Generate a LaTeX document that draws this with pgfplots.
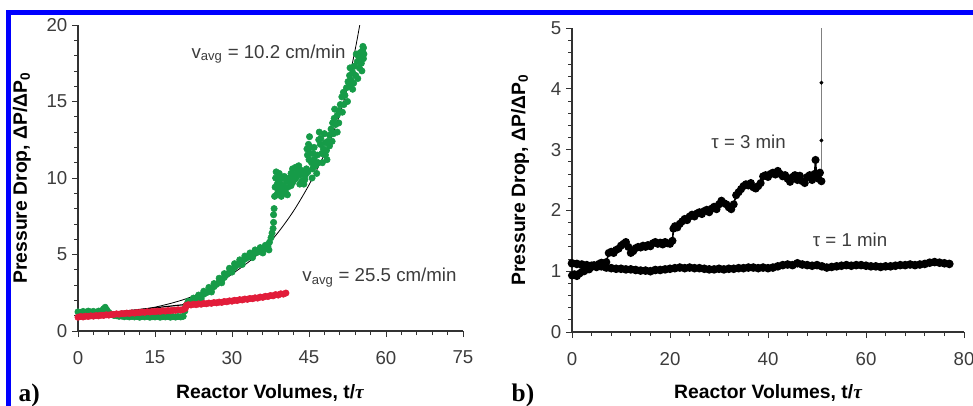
\documentclass[border=0pt]{standalone}
\usepackage{fontspec}
\setmainfont{Liberation Sans}
\newfontfamily\timesfont{Liberation Serif}
\usepackage{pgfplots}
\pgfplotsset{compat=1.18}
\definecolor{mygreen}{RGB}{22,155,72}
\definecolor{myred}{RGB}{226,28,58}
\definecolor{axgray}{RGB}{50,50,50}
\definecolor{txtgray}{RGB}{60,60,60}
\definecolor{frameblue}{RGB}{0,0,255}

\pgfplotsset{
  mystyle/.style={
    scale only axis, anchor=south west,
    axis lines=left, axis line style={-, axgray, line width=0.8pt},
    tick align=outside, major tick length=4.5pt, minor tick length=3pt,
    every tick/.style={axgray, line width=0.6pt},
    minor tick num=4,
    tick label style={font=\fontsize{14}{16}\selectfont, text=txtgray},
    xticklabel style={yshift=-7pt},
    /pgf/number format/assume math mode=true,
  }
}

\begin{document}
\begin{tikzpicture}
\useasboundingbox (0pt,0pt) rectangle (729.75pt,303.75pt);
\fill[white] (0pt,0pt) rectangle (729.75pt,303.75pt);

% ---------------- panel a ----------------
\begin{axis}[mystyle, at={(58.5pt,55.5pt)}, width=288.75pt, height=229.5pt,
  xmin=0, xmax=75, ymin=0, ymax=20,
  xtick={0,15,30,45,60,75}, ytick={0,5,10,15,20}]
% green data
\addplot[only marks, mark=*, mark size=2.4pt, mark options={draw=mygreen, fill=mygreen}] coordinates {
(0,1.25)(0.5,1.2)(1,1.28)(1.5,1.22)(2,1.3)(2.5,1.24)(3,1.28)(3.5,1.2)(4,1.3)(4.5,1.32)(5,1.45)(5.3,1.55)(5.6,1.38)(6,1.22)
(6.5,1.1)(7,1.02)(7.5,1.0)(8,0.96)(8.5,0.98)(9,0.93)(9.5,0.97)(10,0.92)(10.5,0.96)(11,0.92)(11.5,0.95)(12,0.9)(12.5,0.95)
(13,0.92)(13.5,0.96)(14,0.9)(14.5,0.94)(15,0.92)(15.5,0.96)(16,0.9)(16.5,0.94)(17,0.92)(17.5,0.95)(18,0.9)(18.5,0.94)
(19,0.91)(19.5,0.95)(20,0.92)(20.5,0.96)(20.8,1.3)(21,1.65)(21.3,1.8)(21.7,1.75)(22,1.9)(22.5,1.95)(23,2.05)(23.5,2.15)
(24,2.3)(24.5,2.4)(25,2.5)(25.5,2.6)(26,2.75)(26.5,2.9)(27,3.05)(27.5,3.2)(28,3.35)(28.5,3.5)(29,3.7)(29.5,3.85)
(30,4.05)(30.5,4.15)(31,4.3)(31.5,4.4)(32,4.55)(32.5,4.7)(33,4.8)(33.5,4.9)(34,5.0)(34.5,5.1)(35,5.15)(35.5,5.25)
(36,5.3)(36.5,5.4)(37,5.55)(37.3,5.8)(37.6,6.1)(37.8,6.4)(38,6.7)(38.1,7.1)(38.1,7.6)(38.2,8.0)(38.3,8.8)(38.4,9.4)
(38.5,10.0)(38.6,10.4)(38.8,9.6)(39,9.1)(39.3,9.7)(39.5,9.3)(39.8,9.0)(40,9.5)(40.3,9.2)(40.6,9.8)(40.9,9.4)(41.2,10.0)
(41.5,10.3)(41.8,10.6)(42.1,10.2)(42.4,10.7)(42.7,10.4)(43,10.8)(43.3,10.2)(43.6,9.8)(43.9,10.3)(44.2,9.9)(44.5,10.6)
(44.7,11.5)(44.9,12.2)(45.1,12.7)(45.3,12.0)(45.5,11.0)(45.7,10.6)(46,11.2)(46.3,10.8)(46.6,11.5)(46.9,12.5)(47.0,13.0)
(47.2,12.2)(47.5,11.6)(47.8,11.9)(48.1,12.3)(48.4,11.8)(48.7,12.4)(49,12.8)(49.3,13.2)(49.6,13.6)(49.9,13.9)(50.2,13.5)
(50.5,14.1)(50.8,14.4)(51.1,14.8)(51.4,15.3)(51.7,15.6)(52,15.4)(52.3,15.9)(52.6,16.3)(52.9,16.7)(53.2,16.4)(53.5,16.9)
(53.8,17.3)(54.1,16.7)(54.4,17.6)(54.7,17.9)(55,18.2)(55.2,17.5)(55.4,18.3)(55.6,17.8)(55.7,18.1)
(38.7,8.9)(39.2,10.3)(39.6,8.8)(40.2,10.1)(40.8,8.9)(41.5,9.5)(42.2,9.9)(43.2,9.6)(44,9.6)(44.8,10.4)(45.6,10.0)
(46.5,10.3)(47.6,11.0)(48.5,11.2)(49.5,12.4)(50.5,13.0)(51.5,14.3)(52.5,15.0)(53.5,15.8)(54.5,16.5)(55.3,17.0)
(54.2,18.1)(53,17.2)(55.5,18.6)(50.0,14.5)(48,12.9)(46,12.0)
(39.0,9.9)(39.8,10.0)(40.5,9.0)(41.0,9.8)(41.8,9.7)(42.5,10.0)(43.5,10.5)(44.3,10.2)(45.0,11.2)(45.8,11.6)(46.8,11.0)
(47.3,12.6)(48.2,11.5)(49.0,12.1)(49.8,12.9)(50.8,13.6)(51.8,14.8)(52.8,16.0)(53.7,16.2)(54.8,17.2)(55.6,18.5)
(44.6,11.9)(45.2,11.6)
(21.5,1.95)(22.5,2.15)(23.5,2.35)(24.5,2.6)(25.5,2.85)(26.5,3.1)(27.5,3.45)(28.5,3.75)(29.5,4.1)(30.5,4.4)(31.5,4.65)
(32.5,4.9)(33.5,5.1)(34.5,5.3)(35.5,5.45)(36.5,5.6)(37.2,5.3)(36,5.1)(34,4.8)(32,4.35)(30,3.85)(28,3.15)(26,2.55)(24,2.1)
};
% red data
\addplot[only marks, mark=*, mark size=2.4pt, mark options={draw=myred, fill=myred}] coordinates {
(0,0.90)(0.5,0.95)(1,0.92)(1.5,0.97)(2,0.95)(2.5,0.99)(3,0.97)(3.5,1.01)(4,0.99)(4.5,1.03)(5,1.02)(5.5,1.06)(6,1.04)
(6.5,1.08)(7,1.08)(7.5,1.12)(8,1.10)(8.5,1.14)(9,1.13)(9.5,1.17)(10,1.15)(10.5,1.19)(11,1.17)(11.5,1.21)(12,1.20)
(12.5,1.24)(13,1.22)(13.5,1.26)(14,1.24)(14.5,1.28)(15,1.26)(15.5,1.30)(16,1.28)(16.5,1.32)(17,1.30)(17.5,1.34)
(18,1.32)(18.5,1.36)(19,1.35)(19.5,1.39)(20,1.37)(20.5,1.41)(20.9,1.47)(21.1,1.68)(21.5,1.72)(22,1.70)(22.5,1.75)
(23,1.72)(23.5,1.77)(24,1.75)(24.5,1.80)(25,1.78)(25.5,1.83)(26,1.81)(26.5,1.86)(27,1.84)(27.5,1.89)(28,1.87)
(28.5,1.93)(29,1.91)(29.5,1.97)(30,1.95)(30.5,2.01)(31,1.99)(31.5,2.05)(32,2.03)(32.5,2.09)(33,2.07)(33.5,2.13)
(34,2.11)(34.5,2.17)(35,2.15)(35.5,2.22)(36,2.20)(36.5,2.27)(37,2.25)(37.5,2.32)(38,2.30)(38.5,2.38)(39,2.35)
(39.5,2.43)(40,2.41)(40.5,2.48)
};
% fits
\addplot[black, line width=0.6pt, smooth] coordinates {
(0,0.98)(3,1.04)(6,1.12)(9,1.24)(12,1.39)(15,1.56)(18,1.80)(21,2.10)(24,2.50)(27,3.02)(30,3.72)(33,4.45)(36,5.30)
(39,6.45)(42,7.85)(45,9.55)(48,11.55)(50,13.2)(52,15.3)(54,18.4)(55.2,20.6)
};
\addplot[black, line width=0.9pt] coordinates {(0,0.97)(40.3,2.44)};
\node[anchor=base west, font=\fontsize{14}{16}\selectfont, text=txtgray] at (axis cs:21.2,17.84) {v\textsubscript{avg} = 10.2 cm/min};
\node[anchor=base west, font=\fontsize{14}{16}\selectfont, text=txtgray] at (axis cs:42.8,3.22) {v\textsubscript{avg} = 25.5 cm/min};
\end{axis}

% ---------------- panel b ----------------
\begin{axis}[mystyle, at={(429pt,54.75pt)}, width=294pt, height=228pt,
  xmin=0, xmax=80, ymin=0, ymax=5,
  xtick={0,20,40,60,80}, ytick={0,1,2,3,4,5}]
% tau = 1 min
\addplot[black, line width=1.8pt, mark=*, mark size=2.3pt, mark options={fill=black}] coordinates {
(0,1.13)(1,1.12)(2,1.11)(3,1.10)(4,1.09)(5,1.07)(6,1.08)(7,1.06)(8,1.05)(9,1.04)(10,1.04)(11,1.03)(12,1.03)(13,1.02)
(14,1.01)(15,1.01)(16,1.00)(17,1.02)(18,1.02)(19,1.03)(20,1.04)(21,1.05)(22,1.06)(23,1.05)(24,1.06)(25,1.05)(26,1.05)
(27,1.04)(28,1.03)(29,1.03)(30,1.04)(31,1.03)(32,1.04)(33,1.04)(34,1.05)(35,1.05)(36,1.06)(37,1.06)(38,1.05)(39,1.06)
(40,1.05)(41,1.06)(42,1.08)(43,1.10)(44,1.11)(45,1.10)(46,1.13)(47,1.11)(48,1.10)(49,1.09)(50,1.10)(51,1.08)(52,1.06)
(53,1.07)(54,1.08)(55,1.09)(56,1.10)(57,1.09)(58,1.10)(59,1.10)(60,1.09)(61,1.08)(62,1.08)(63,1.07)(64,1.08)(65,1.08)
(66,1.09)(67,1.10)(68,1.10)(69,1.11)(70,1.10)(71,1.11)(72,1.12)(73,1.14)(74,1.15)(75,1.14)(76,1.13)(77,1.12)
};
% tau = 3 min
\addplot[black, line width=1.2pt, mark=*, mark size=2.4pt, mark options={fill=black}] coordinates {
(0,0.93)(0.5,0.95)(1,0.92)(1.5,0.96)(2,0.99)(2.5,1.00)(3,1.04)(3.5,1.03)(4,1.07)(4.5,1.10)(5,1.08)(5.5,1.12)(6,1.14)
(6.5,1.12)(7,1.15)(7.5,1.30)(8,1.32)(8.5,1.30)(9,1.35)(9.5,1.37)(10,1.42)(10.5,1.45)(11,1.48)(11.5,1.40)(12,1.30)
(12.5,1.33)(13,1.38)(13.5,1.40)(14,1.39)(14.5,1.42)(15,1.40)(15.5,1.43)(16,1.41)(16.5,1.46)(17,1.48)(17.5,1.45)
(18,1.47)(18.5,1.44)(19,1.48)(19.5,1.46)(20,1.45)(20.5,1.50)(20.7,1.70)(21,1.74)(21.5,1.72)(22,1.78)(22.5,1.82)
(23,1.86)(23.5,1.84)(24,1.90)(24.5,1.93)(25,1.90)(25.5,1.95)(26,1.97)(26.5,1.94)(27,1.99)(27.5,2.01)(28,1.97)
(28.5,2.03)(29,2.06)(29.5,2.02)(30,2.10)(30.5,2.16)(31,2.12)(31.5,2.10)(32,2.05)(32.5,2.02)(33,2.10)(33.5,2.25)
(34,2.30)(34.5,2.35)(35,2.40)(35.5,2.43)(36,2.41)(36.5,2.45)(37,2.38)(37.5,2.36)(38,2.40)(38.5,2.45)(39,2.56)
(39.5,2.58)(40,2.55)(40.5,2.60)(41,2.62)(41.5,2.59)(42,2.65)(42.5,2.60)(43,2.56)(43.5,2.58)(44,2.52)(44.5,2.47)
(45,2.55)(45.5,2.58)(46,2.50)(46.5,2.57)(47,2.48)(47.5,2.45)(48,2.55)(48.5,2.58)(49,2.50)(49.5,2.60)(49.7,2.83)
(49.9,2.55)(50.3,2.52)(50.6,2.62)(50.9,2.48)
};
% tail of tau = 3 min
\addplot[gray, line width=0.5pt, mark=*, mark size=1.2pt, mark options={black, fill=black}] coordinates {
(50.9,2.48)(50.9,3.15)(50.9,4.1)(50.9,6.0)
};
\node[anchor=base west, font=\fontsize{14}{16}\selectfont, text=txtgray] at (axis cs:27.5,3.02) {τ = 3 min};
\node[anchor=base west, font=\fontsize{14}{16}\selectfont, text=txtgray] at (axis cs:48.2,1.40) {τ = 1 min};
\end{axis}

% ---------------- labels ----------------
\node[rotate=90, font=\bfseries\fontsize{14.5}{17}\selectfont] at (16.5pt,170.25pt) {Pressure Drop, ΔP/ΔP\textsubscript{0}};
\node[font=\bfseries\fontsize{14.5}{17}\selectfont] at (202.5pt,9pt) {Reactor Volumes, t/{\timesfont\bfseries\itshape τ}};
\node[anchor=west, font=\timesfont\bfseries\fontsize{19}{20}\selectfont] at (10.5pt,7.5pt) {a)};
\node[rotate=90, font=\bfseries\fontsize{14.5}{17}\selectfont] at (390pt,168.75pt) {Pressure Drop, ΔP/ΔP\textsubscript{0}};
\node[font=\bfseries\fontsize{14.5}{17}\selectfont] at (576pt,9pt) {Reactor Volumes, t/{\timesfont\bfseries\itshape τ}};
\node[anchor=west, font=\timesfont\bfseries\fontsize{19}{20}\selectfont] at (380.25pt,7.5pt) {b)};

% blue frame
\draw[frameblue, line width=3.75pt] (6.4pt,-5pt) -- (6.4pt,294.4pt) -- (740pt,294.4pt);
\end{tikzpicture}
\end{document}
